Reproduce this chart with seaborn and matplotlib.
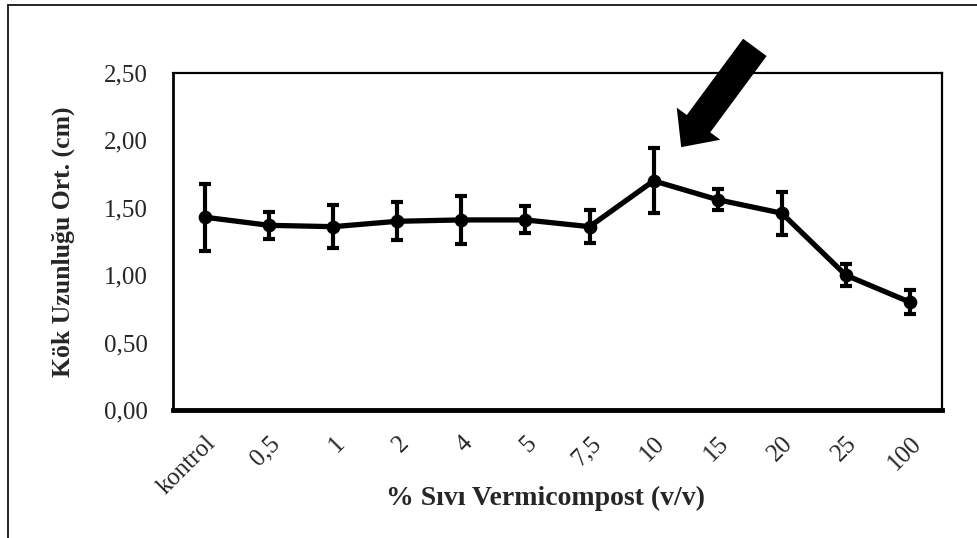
import matplotlib
matplotlib.use("Agg")
import matplotlib.pyplot as plt
import seaborn as sns
import pandas as pd
from matplotlib.lines import Line2D

categories = ["kontrol", "0,5", "1", "2", "4", "5", "7,5", "10", "15", "20", "25", "100"]
means = [1.43, 1.37, 1.36, 1.40, 1.41, 1.41, 1.36, 1.70, 1.56, 1.46, 1.00, 0.80]
errors = [0.25, 0.10, 0.16, 0.14, 0.18, 0.10, 0.12, 0.24, 0.08, 0.16, 0.08, 0.09]
yticks = [0.0, 0.5, 1.0, 1.5, 2.0, 2.5]
ytick_labels = ["0,00", "0,50", "1,00", "1,50", "2,00", "2,50"]

sns.set_style("white")
plt.rcParams["font.family"] = ["Liberation Serif", "DejaVu Serif"]

df = pd.DataFrame({"cat": categories, "mean": means, "err": errors})

fig = plt.figure(figsize=(9.77, 5.38), dpi=100)
ax = fig.add_axes([173 / 977, 1 - 410 / 538, (942 - 173) / 977, (410 - 73) / 538])

sns.pointplot(data=df, x="cat", y="mean", errorbar=None, color="black",
              markers="o", markersize=7, linewidth=3.8, ax=ax)
ax.errorbar(range(len(categories)), df["mean"], yerr=df["err"], fmt="none",
            ecolor="black", elinewidth=3, capsize=4.5, capthick=3, zorder=5)

ax.set_xlim(-0.5, len(categories) - 0.5)
ax.set_ylim(0, 2.5)
ax.set_yticks(yticks)
ax.set_yticklabels(ytick_labels, fontsize=18)
ax.tick_params(axis="y", length=0, pad=18)

ax.set_xticks(range(len(categories)))
ax.set_xticklabels(categories, rotation=45, ha="right", rotation_mode="anchor", fontsize=18)
ax.tick_params(axis="x", which="major", length=0, pad=16)
ax.set_xticks([i - 0.5 for i in range(len(categories) + 1)], minor=True)
ax.tick_params(axis="x", which="minor", length=6, width=3.5, direction="out", color="black")

for s in ["top", "right"]:
    ax.spines[s].set_linewidth(1.6)
    ax.spines[s].set_color("black")
ax.spines["left"].set_linewidth(2)
ax.spines["left"].set_color("black")
ax.spines["bottom"].set_linewidth(3.5)
ax.spines["bottom"].set_color("black")

ax.set_xlabel("% Sıvı Vermicompost (v/v)", fontsize=20, fontweight="bold")
ax.xaxis.set_label_coords(0.485, -0.225)
ax.set_ylabel("Kök Uzunluğu Ort. (cm)", fontsize=18.5, fontweight="bold")
ax.yaxis.set_label_coords(-0.128, 0.5)

ax.annotate("", xy=(7.43, 1.95), xytext=(8.58, 2.69), xycoords="data",
            arrowprops=dict(arrowstyle="simple,tail_width=1.05,head_width=1.95,head_length=1.05",
                            fc="black", ec="black", lw=0, mutation_scale=20,
                            shrinkA=0, shrinkB=0),
            annotation_clip=False)

fig.add_artist(Line2D([8 / 977, 1.0], [1 - 5 / 538, 1 - 5 / 538], transform=fig.transFigure,
                      color="black", lw=1.2))
fig.add_artist(Line2D([8 / 977, 8 / 977], [0.0, 1 - 5 / 538], transform=fig.transFigure,
                      color="black", lw=1.2))

fig.savefig("out.png", dpi=100, facecolor="white")
